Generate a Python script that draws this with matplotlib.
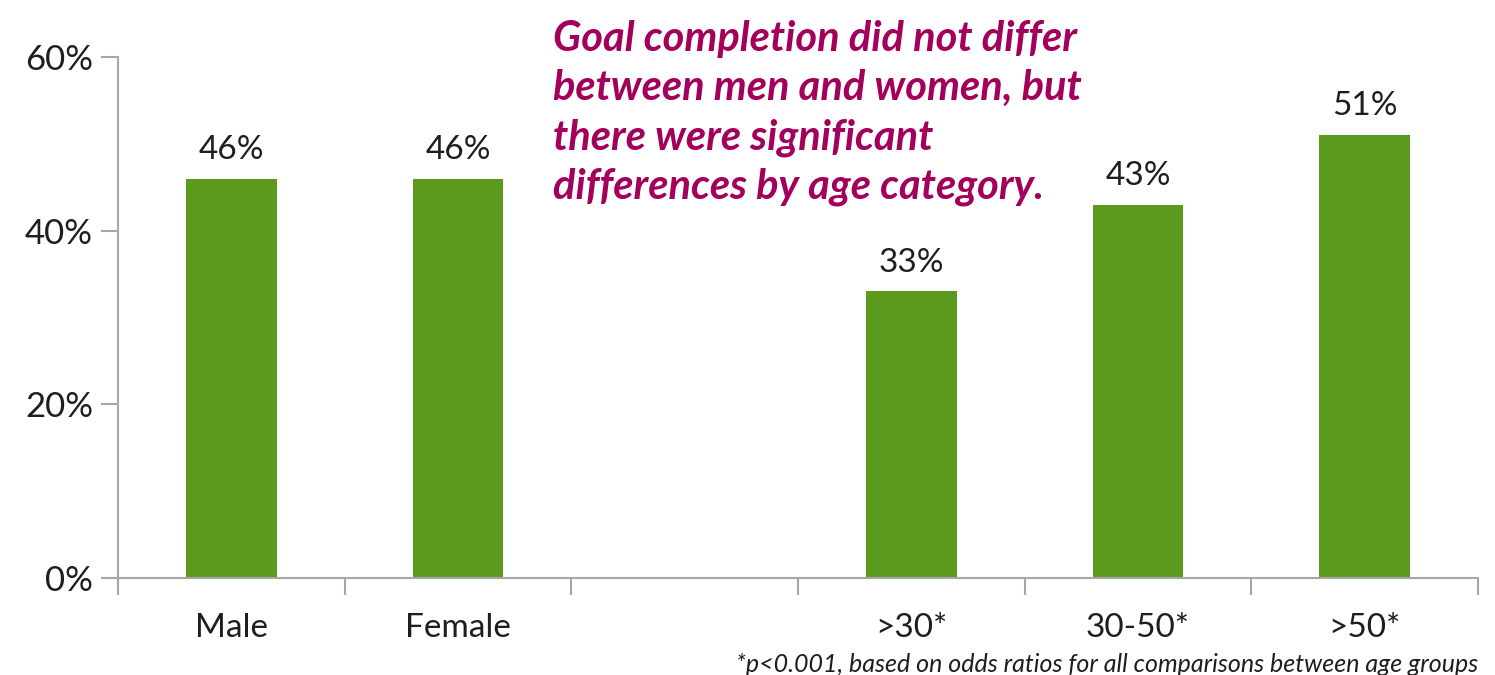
import numpy as np
import matplotlib.pyplot as plt
from matplotlib.ticker import FixedLocator, PercentFormatter

# data
categories = ["Male", "Female", "", ">30*", "30-50*", ">50*"]
values = [46, 46, np.nan, 33, 43, 51]
y_ticks = [0, 20, 40, 60]

title_text = ("Goal completion did not differ\n"
              "between men and women, but\n"
              "there were significant\n"
              "differences by age category.")
footnote = "*p<0.001, based on odds ratios for all comparisons between age groups"

green = "#5C9A1E"
magenta = "#A3005C"
axis_grey = "#A6A6A6"
text_col = "#1E1E1E"

plt.rcParams['font.family'] = ['Lato', 'DejaVu Sans']

fig = plt.figure(figsize=(14.95, 6.75), dpi=100)
ax = fig.add_axes([118 / 1495, 1 - 578 / 675, 1360 / 1495, 521 / 675])

x = np.arange(len(categories))
ax.bar(x, np.nan_to_num(values), width=0.4, color=green, zorder=2)

for xi, v in zip(x, values):
    if np.isnan(v):
        continue
    ax.annotate(f"{v:.0f}%", (xi, v), xytext=(0, 10), textcoords="offset points",
                ha="center", va="bottom", fontsize=24, color=text_col)

ax.set_xlim(-0.5, len(categories) - 0.5)
ax.set_ylim(0, 60)
ax.set_yticks(y_ticks)
ax.yaxis.set_major_formatter(PercentFormatter(decimals=0))

ax.set_xticks(x)
ax.set_xticklabels(categories)
ax.xaxis.set_minor_locator(FixedLocator(np.arange(-0.5, len(categories), 1.0)))
ax.tick_params(axis="x", which="major", length=0, pad=25, labelsize=24, labelcolor=text_col)
ax.tick_params(axis="x", which="minor", length=12, width=1.5, color=axis_grey, direction="out")
ax.tick_params(axis="y", length=12, width=1.5, color=axis_grey, pad=6, labelsize=25,
               labelcolor=text_col)

for side in ["top", "right"]:
    ax.spines[side].set_visible(False)
for side in ["left", "bottom"]:
    ax.spines[side].set_color(axis_grey)
    ax.spines[side].set_linewidth(1.5)

fig.text(553 / 1495, 1 - 20 / 675, title_text, ha="left", va="top", fontsize=30,
         fontweight="bold", fontstyle="italic", color=magenta, linespacing=1.36)
fig.text(1478 / 1495, 1 - 664 / 675, footnote, ha="right", va="center", fontsize=18,
         fontstyle="italic", color=text_col)

fig.savefig("out.png", dpi=100)
